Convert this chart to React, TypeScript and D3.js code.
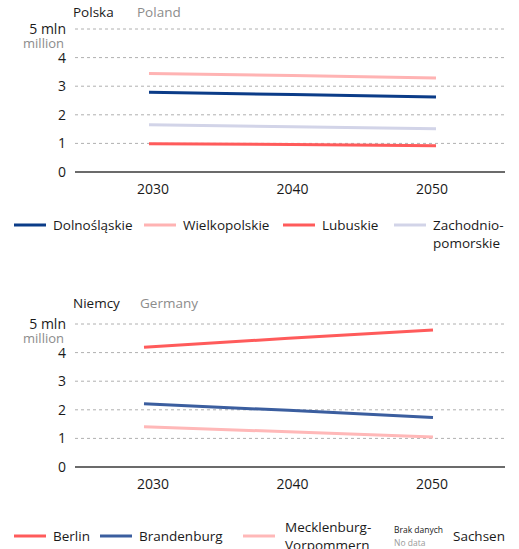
import React from "react";
import * as d3 from "d3";

// Projected population (millions) for border regions
const years = [2030, 2040, 2050];
const yTicks = [0, 1, 2, 3, 4, 5];

const plRegions = ["Dolnośląskie", "Wielkopolskie", "Lubuskie", "Zachodniopomorskie"];
const dolnoslaskie = [2.79, 2.71, 2.62];
const wielkopolskie = [3.44, 3.37, 3.29];
const lubuskie = [0.99, 0.96, 0.92];
const zachodniopomorskie = [1.65, 1.58, 1.51];

const deRegions = ["Berlin", "Brandenburg", "Mecklenburg-Vorpommern"];
const berlin = [4.19, 4.5, 4.79];
const brandenburg = [2.21, 1.98, 1.73];
const mecklenburg = [1.41, 1.23, 1.05];

const FONT = "'Open Sans', 'Noto Sans', sans-serif";

type Series = { name: string; values: number[]; color: string };

const plSeries: Series[] = [
  { name: plRegions[1], values: wielkopolskie, color: "#ffb3b3" },
  { name: plRegions[0], values: dolnoslaskie, color: "#0b3c88" },
  { name: plRegions[3], values: zachodniopomorskie, color: "#d2d4e8" },
  { name: plRegions[2], values: lubuskie, color: "#ff5b5b" },
];

const deSeries: Series[] = [
  { name: deRegions[0], values: berlin, color: "#ff5b5b" },
  { name: deRegions[1], values: brandenburg, color: "#3b5e9f" },
  { name: deRegions[2], values: mecklenburg, color: "#ffb8b8" },
];

function Panel({
  top,
  titleY,
  title,
  subtitle,
  subX,
  series,
  x0,
  x1,
}: {
  top: number;
  titleY: number;
  title: string;
  subtitle: string;
  subX: number;
  series: Series[];
  x0: number;
  x1: number;
}) {
  const y = d3.scaleLinear().domain([0, 5]).range([top + 143, top]);
  const x = d3.scaleLinear().domain([2030, 2050]).range([x0, x1]);
  const labelX = d3.scaleLinear().domain([2030, 2050]).range([153, 432]);
  const line = d3
    .line<number>()
    .x((_, i) => x(years[i]))
    .y((v) => y(v));
  const left = 75;
  const right = 505;
  return (
    <g>
      <text x={73} y={titleY} fontSize={13.5} fill="#1a1a1a" fontFamily={FONT}>
        {title}
      </text>
      <text x={subX} y={titleY} fontSize={13.5} fill="#8c8c8c" fontFamily={FONT}>
        {subtitle}
      </text>
      {yTicks.map((t) => (
        <g key={t}>
          {t > 0 && (
            <line
              x1={left}
              x2={right}
              y1={y(t)}
              y2={y(t)}
              stroke="#b0b0b0"
              strokeWidth={1}
              strokeDasharray="3,3"
            />
          )}
          <text
            x={66}
            y={y(t) + 5}
            textAnchor="end"
            fontSize={14}
            fill="#1a1a1a"
            fontFamily={FONT}
          >
            {t === 5 ? "5 mln" : t}
          </text>
        </g>
      ))}
      <text x={64} y={y(5) + 19} textAnchor="end" fontSize={13} fill="#8c8c8c" fontFamily={FONT}>
        million
      </text>
      <line x1={left} x2={right} y1={y(0)} y2={y(0)} stroke="#3a3a3a" strokeWidth={1.5} />
      {years.map((yr) => (
        <text
          key={yr}
          x={labelX(yr)}
          y={y(0) + 22}
          textAnchor="middle"
          fontSize={14}
          fill="#1a1a1a"
          fontFamily={FONT}
        >
          {yr}
        </text>
      ))}
      {series.map((s) => (
        <path key={s.name} d={line(s.values) || ""} fill="none" stroke={s.color} strokeWidth={3} />
      ))}
    </g>
  );
}

function LegendItem({
  x,
  y,
  color,
  lines,
}: {
  x: number;
  y: number;
  color: string;
  lines: string[];
}) {
  return (
    <g>
      <line x1={x} x2={x + 32} y1={y} y2={y} stroke={color} strokeWidth={3} />
      {lines.map((l, i) => (
        <text
          key={i}
          x={x + 39}
          y={y + 5 + i * 18}
          fontSize={13.5}
          fill="#1a1a1a"
          fontFamily={FONT}
        >
          {l}
        </text>
      ))}
    </g>
  );
}

export default function App() {
  return (
    <svg width={519} height={549} style={{ display: "block", position: "absolute", left: 0, top: 0 }}>
      <rect width={519} height={549} fill="#ffffff" />
      <Panel top={29} titleY={17} title="Polska" subtitle="Poland" subX={137} series={plSeries} x0={149} x1={436} />
      <LegendItem x={14} y={225} color="#0b3c88" lines={["Dolnośląskie"]} />
      <LegendItem x={144} y={225} color="#ffb3b3" lines={["Wielkopolskie"]} />
      <LegendItem x={283} y={225} color="#ff5b5b" lines={["Lubuskie"]} />
      <LegendItem x={394} y={225} color="#d2d4e8" lines={["Zachodnio-", "pomorskie"]} />

      <Panel top={324} titleY={308} title="Niemcy" subtitle="Germany" subX={140} series={deSeries} x0={144} x1={433} />
      <LegendItem x={14} y={536} color="#ff5b5b" lines={["Berlin"]} />
      <LegendItem x={100} y={536} color="#3b5e9f" lines={["Brandenburg"]} />
      <line x1={243} x2={275} y1={536} y2={536} stroke="#ffb8b8" strokeWidth={3} />
      <text x={285} y={532} fontSize={13.5} fill="#1a1a1a" fontFamily={FONT}>
        Mecklenburg-
      </text>
      <text x={285} y={550} fontSize={13.5} fill="#1a1a1a" fontFamily={FONT}>
        Vorpommern
      </text>
      <text x={394} y={533} fontSize={8.5} fill="#1a1a1a" fontFamily={FONT}>
        Brak danych
      </text>
      <text x={394} y={546} fontSize={8.5} fill="#9a9a9a" fontFamily={FONT}>
        No data
      </text>
      <text x={453} y={541} fontSize={13.5} fill="#1a1a1a" fontFamily={FONT}>
        Sachsen
      </text>
    </svg>
  );
}
